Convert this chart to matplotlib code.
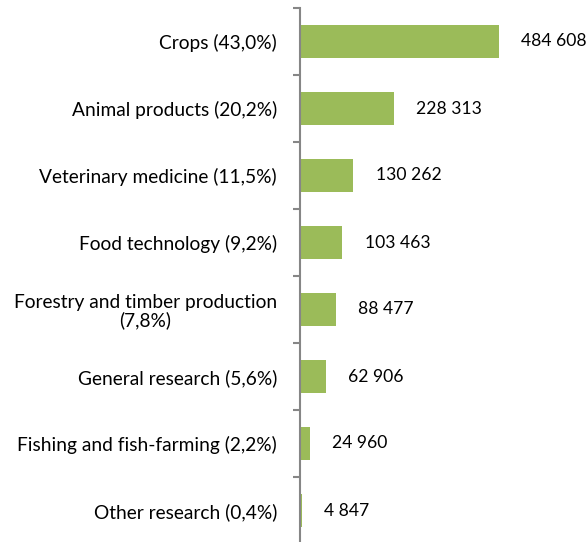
import numpy as np
import matplotlib
matplotlib.use('Agg')
import matplotlib.pyplot as plt

# Data
categories = ['Crops (43,0%)', 'Animal products (20,2%)', 'Veterinary medicine (11,5%)',
              'Food technology (9,2%)', 'Forestry and timber production\n(7,8%)',
              'General research (5,6%)', 'Fishing and fish-farming (2,2%)', 'Other research (0,4%)']
values = [484608, 228313, 130262, 103463, 88477, 62906, 24960, 4847]
value_labels = ['484 608', '228 313', '130 262', '103 463', '88 477', '62 906', '24 960', '4 847']

bar_color = '#9BBB59'
axis_color = '#868686'
label_size = 13.8
value_size = 12.6

plt.rcParams['font.family'] = ['Lato', 'DejaVu Sans']

fig = plt.figure(figsize=(5.86, 5.42), dpi=100)
ax = fig.add_axes([300 / 586, -2 / 542, 287 / 586, 536 / 542])

y_pos = np.arange(len(categories))
ax.barh(y_pos, values, height=0.5, color=bar_color, edgecolor='none')
for y, v, lbl in zip(y_pos, values, value_labels):
    ax.annotate(lbl, xy=(v, y), xytext=(16, 0), textcoords='offset points',
                va='center', ha='left', fontsize=value_size, color='black')

ax.set_xlim(0, 700000)
ax.set_ylim(len(categories) - 0.5, -0.5)

# category labels, ticks between categories
ax.set_yticks(y_pos, labels=categories, fontsize=label_size)
ax.tick_params(axis='y', which='major', length=0, pad=16.5)
for t in ax.get_yticklabels():
    t.set_multialignment('center')
    t.set_linespacing(1.05)
ax.set_yticks(np.arange(-0.5, len(categories), 1), minor=True)
ax.tick_params(axis='y', which='minor', length=5, width=1.5, color=axis_color)
ax.set_xticks([])

for side in ['top', 'right', 'bottom']:
    ax.spines[side].set_visible(False)
ax.spines['left'].set_color(axis_color)
ax.spines['left'].set_linewidth(1.5)

fig.savefig('out.png', dpi=100)
